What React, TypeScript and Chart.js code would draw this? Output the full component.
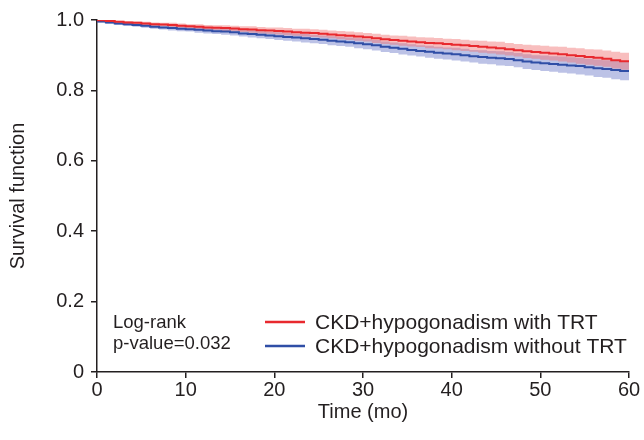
import React, { useEffect, useRef } from 'react';
import { Chart, registerables } from 'chart.js';

Chart.register(...registerables);

// ---- Data ----
const months = [0, 1, 2, 3, 4, 5, 6, 7, 8, 9, 10, 11, 12, 13, 14, 15, 16, 17, 18, 19, 20, 21, 22, 23, 24, 25, 26, 27, 28, 29, 30, 31, 32, 33, 34, 35, 36, 37, 38, 39, 40, 41, 42, 43, 44, 45, 46, 47, 48, 49, 50, 51, 52, 53, 54, 55, 56, 57, 58, 59, 60];

const withTRT = [1.0, 0.999, 0.997, 0.995, 0.993, 0.992, 0.99, 0.988, 0.987, 0.986, 0.984, 0.982, 0.981, 0.979, 0.978, 0.977, 0.976, 0.974, 0.973, 0.971, 0.97, 0.969, 0.967, 0.965, 0.964, 0.963, 0.961, 0.959, 0.957, 0.955, 0.953, 0.951, 0.948, 0.945, 0.943, 0.941, 0.939, 0.937, 0.935, 0.934, 0.932, 0.93, 0.928, 0.926, 0.924, 0.922, 0.92, 0.917, 0.914, 0.911, 0.909, 0.907, 0.905, 0.903, 0.9, 0.898, 0.895, 0.893, 0.89, 0.886, 0.883];
const withTRTUpper = [1.0, 1.0, 1.0, 0.998, 0.997, 0.996, 0.995, 0.993, 0.992, 0.992, 0.99, 0.988, 0.988, 0.986, 0.985, 0.985, 0.984, 0.982, 0.982, 0.98, 0.979, 0.979, 0.977, 0.975, 0.975, 0.974, 0.972, 0.97, 0.969, 0.967, 0.965, 0.963, 0.961, 0.958, 0.956, 0.955, 0.953, 0.951, 0.95, 0.949, 0.947, 0.946, 0.944, 0.942, 0.941, 0.939, 0.938, 0.935, 0.932, 0.93, 0.928, 0.927, 0.925, 0.924, 0.921, 0.92, 0.917, 0.916, 0.913, 0.91, 0.907];
const withTRTLower = [1.0, 0.997, 0.994, 0.992, 0.989, 0.988, 0.985, 0.983, 0.982, 0.98, 0.978, 0.976, 0.974, 0.972, 0.971, 0.969, 0.968, 0.966, 0.964, 0.962, 0.961, 0.959, 0.957, 0.955, 0.953, 0.952, 0.95, 0.948, 0.945, 0.943, 0.941, 0.939, 0.935, 0.932, 0.93, 0.927, 0.925, 0.923, 0.92, 0.919, 0.917, 0.914, 0.912, 0.91, 0.907, 0.905, 0.902, 0.899, 0.896, 0.892, 0.89, 0.887, 0.885, 0.882, 0.879, 0.876, 0.873, 0.87, 0.867, 0.862, 0.859];

const withoutTRT = [1.0, 0.996, 0.993, 0.99, 0.988, 0.986, 0.984, 0.981, 0.979, 0.977, 0.975, 0.974, 0.972, 0.97, 0.968, 0.967, 0.965, 0.962, 0.96, 0.958, 0.956, 0.954, 0.952, 0.95, 0.948, 0.946, 0.944, 0.941, 0.939, 0.937, 0.934, 0.931, 0.928, 0.924, 0.921, 0.918, 0.915, 0.912, 0.91, 0.907, 0.905, 0.903, 0.9, 0.897, 0.895, 0.893, 0.891, 0.889, 0.886, 0.882, 0.879, 0.877, 0.875, 0.873, 0.871, 0.869, 0.866, 0.863, 0.861, 0.858, 0.855];
const withoutTRTUpper = [1.0, 0.999, 0.997, 0.994, 0.993, 0.991, 0.99, 0.987, 0.985, 0.984, 0.982, 0.981, 0.98, 0.978, 0.976, 0.976, 0.974, 0.971, 0.97, 0.968, 0.966, 0.965, 0.963, 0.961, 0.96, 0.958, 0.956, 0.954, 0.952, 0.95, 0.948, 0.945, 0.943, 0.939, 0.936, 0.934, 0.931, 0.928, 0.927, 0.924, 0.922, 0.921, 0.918, 0.915, 0.914, 0.912, 0.911, 0.909, 0.906, 0.903, 0.9, 0.899, 0.897, 0.896, 0.894, 0.893, 0.89, 0.888, 0.886, 0.884, 0.881];
const withoutTRTLower = [1.0, 0.993, 0.989, 0.986, 0.983, 0.981, 0.978, 0.975, 0.973, 0.97, 0.968, 0.967, 0.964, 0.962, 0.96, 0.958, 0.956, 0.953, 0.95, 0.948, 0.946, 0.943, 0.941, 0.939, 0.936, 0.934, 0.932, 0.928, 0.926, 0.924, 0.92, 0.917, 0.913, 0.909, 0.906, 0.902, 0.899, 0.896, 0.893, 0.89, 0.888, 0.885, 0.882, 0.879, 0.876, 0.874, 0.871, 0.869, 0.866, 0.861, 0.858, 0.855, 0.853, 0.85, 0.848, 0.845, 0.842, 0.838, 0.836, 0.832, 0.829];

const xTicks = [0, 10, 20, 30, 40, 50, 60];
const yTicks = [0, 0.2, 0.4, 0.6, 0.8, 1.0];
const seriesLabels = ['CKD+hypogonadism with TRT', 'CKD+hypogonadism without TRT'];
const annotationLines = ['Log-rank', 'p-value=0.032'];
const xTitle = 'Time (mo)';
const yTitle = 'Survival function';

// ---- Styles ----
const FONT = '"Liberation Sans", Arial, Helvetica, sans-serif';
const TEXT = '#231f20';
const RED = '#e8292e';
const BLUE = '#2f4ea6';
const RED_BAND = 'rgba(240, 110, 110, 0.45)';
const BLUE_BAND = 'rgba(95, 110, 195, 0.42)';

const pts = (arr: number[]) => months.map((m, i) => ({ x: m, y: arr[i] }));

const textPlugin = {
  id: 'kmText',
  afterDraw(chart: any) {
    const { ctx } = chart;
    ctx.save();
    ctx.textBaseline = 'middle';
    ctx.fillStyle = TEXT;
    ctx.font = `18.5px ${FONT}`;
    ctx.fillText(annotationLines[0], 113, 323);
    ctx.fillText(annotationLines[1], 113, 344);
    const colors = [RED, BLUE];
    const rowY = [322, 346];
    ctx.font = `21px ${FONT}`;
    seriesLabels.forEach((lab, i) => {
      ctx.strokeStyle = colors[i];
      ctx.lineWidth = 2.5;
      ctx.beginPath();
      ctx.moveTo(265, rowY[i]);
      ctx.lineTo(305, rowY[i]);
      ctx.stroke();
      ctx.fillStyle = TEXT;
      ctx.fillText(lab, 315, rowY[i] + 1);
    });
    ctx.restore();
  },
};

const band = (data: number[], color: string | null, order: number) => ({
  label: 'band',
  data: pts(data),
  stepped: 'after' as const,
  borderWidth: 0,
  pointRadius: 0,
  borderColor: 'rgba(0,0,0,0)',
  backgroundColor: color ?? 'rgba(0,0,0,0)',
  fill: color ? '+1' : false,
  order,
});

export default function App() {
  const ref = useRef<HTMLCanvasElement | null>(null);

  useEffect(() => {
    document.body.style.margin = '0';
    const canvas = ref.current;
    if (!canvas) return;
    const chart = new Chart(canvas, {
      type: 'line',
      data: {
        datasets: [
          band(withTRTUpper, RED_BAND, 2),
          band(withTRTLower, null, 2),
          band(withoutTRTUpper, BLUE_BAND, 3),
          band(withoutTRTLower, null, 3),
          {
            label: seriesLabels[0],
            data: pts(withTRT),
            stepped: 'after',
            borderWidth: 2,
            pointRadius: 0,
            borderColor: RED,
            fill: false,
            order: 0,
          },
          {
            label: seriesLabels[1],
            data: pts(withoutTRT),
            stepped: 'after',
            borderWidth: 2,
            pointRadius: 0,
            borderColor: BLUE,
            fill: false,
            order: 1,
          },
        ] as any,
      },
      options: {
        animation: false,
        responsive: true,
        maintainAspectRatio: false,
        layout: { padding: { top: 20, right: 15, left: 0, bottom: 0 } },
        plugins: {
          legend: { display: false },
          tooltip: { enabled: false },
        },
        scales: {
          x: {
            type: 'linear',
            min: 0,
            max: 60,
            afterFit: (s: any) => {
              s.height = 68;
            },
            afterBuildTicks: (s: any) => {
              s.ticks = xTicks.map((v) => ({ value: v }));
            },
            grid: {
              display: true,
              drawOnChartArea: false,
              drawTicks: true,
              tickLength: 6,
              color: TEXT,
              lineWidth: 1.5,
            },
            border: { display: true, color: TEXT, width: 1.5 },
            ticks: {
              font: { size: 20, family: FONT },
              color: TEXT,
              padding: 0,
              maxRotation: 0,
            },
            title: {
              display: true,
              text: xTitle,
              font: { size: 20, family: FONT },
              color: TEXT,
              padding: { top: 0, bottom: 16 },
            },
          },
          y: {
            type: 'linear',
            min: 0,
            max: 1,
            afterFit: (s: any) => {
              s.width = 97;
            },
            afterBuildTicks: (s: any) => {
              s.ticks = yTicks.map((v) => ({ value: v }));
            },
            grid: {
              display: true,
              drawOnChartArea: false,
              drawTicks: true,
              tickLength: 6,
              color: TEXT,
              lineWidth: 1.5,
            },
            border: { display: true, color: TEXT, width: 1.5 },
            ticks: {
              font: { size: 20, family: FONT },
              color: TEXT,
              padding: 7,
              callback: (v: any) => (v === 0 ? '0' : Number(v).toFixed(1)),
            },
            title: {
              display: true,
              text: yTitle,
              font: { size: 20, family: FONT },
              color: TEXT,
              padding: { top: 6, bottom: 0 },
            },
          },
        },
      },
      plugins: [textPlugin],
    });
    return () => chart.destroy();
  }, []);

  return (
    <div style={{ position: 'relative', width: 644, height: 440 }}>
      <canvas ref={ref} />
    </div>
  );
}
